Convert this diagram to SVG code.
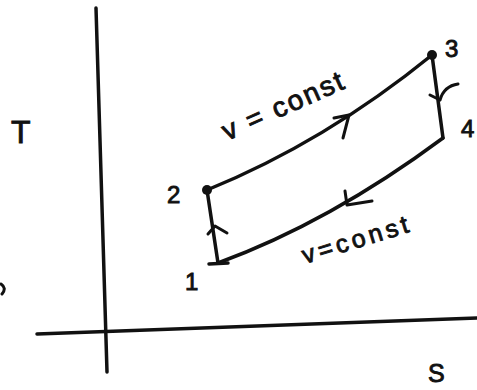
<svg xmlns="http://www.w3.org/2000/svg" width="477" height="390" viewBox="0 0 477 390">
<style>
.ln{fill:none;stroke:#111;stroke-width:3.5;stroke-linecap:round;stroke-linejoin:round}
.ar{fill:none;stroke:#111;stroke-width:3;stroke-linecap:round;stroke-linejoin:round}
.lb{font-family:"Liberation Sans",Arial,sans-serif;fill:#111;stroke:#111;stroke-width:0.9;font-size:24px}
.dot{fill:#111}
</style>
<rect width="477" height="390" fill="#fff"/>
<g id="axes">
<path class="ln" d="M96,8 L107,372"/>
<path class="ln" d="M37,334 L477,318"/>
<path class="ar" d="M1,284 Q7,288 2,294"/>
<text class="lb" x="11" y="143" style="font-size:32px">T</text>
<text class="lb" x="428" y="382" style="font-size:25px">S</text>
</g>
<g id="connectors">
<g id="p12">
<path class="ln" d="M218,263 L207,190"/>
<path class="ar" d="M208,234 L215,226 L227,233"/>
</g>
<g id="p23">
<path class="ln" d="M207,190 Q325,142 432,55"/>
<path class="ar" d="M334,118 L349,115 L343,138"/>
</g>
<g id="p34">
<path class="ln" d="M432,55 L443,138"/>
<path class="ar" d="M430,95 L440,100 Q444,86 458,84"/>
</g>
<g id="p41">
<path class="ln" d="M443,138 Q330,222 218,263"/>
<path class="ar" d="M345,191 L347,205 L372,201"/>
</g>
</g>
<g id="node1">
<path class="ln" d="M209,264 L228,263"/>
<text class="lb" x="185" y="290">1</text>
</g>
<g id="node2">
<circle class="dot" cx="207" cy="190" r="5"/>
<text class="lb" x="167" y="203">2</text>
</g>
<g id="node3">
<circle class="dot" cx="432" cy="55" r="5"/>
<text class="lb" x="445" y="57">3</text>
</g>
<g id="node4">
<text class="lb" x="461" y="137">4</text>
</g>
<g id="labels">
<text class="lb" x="227" y="141" style="font-size:28px" transform="rotate(-24 227 141)" textLength="130" lengthAdjust="spacing">v = const</text>
<text class="lb" x="305" y="264" style="font-size:25px" transform="rotate(-17 305 264)" textLength="110" lengthAdjust="spacing">v=const</text>
</g>
</svg>
